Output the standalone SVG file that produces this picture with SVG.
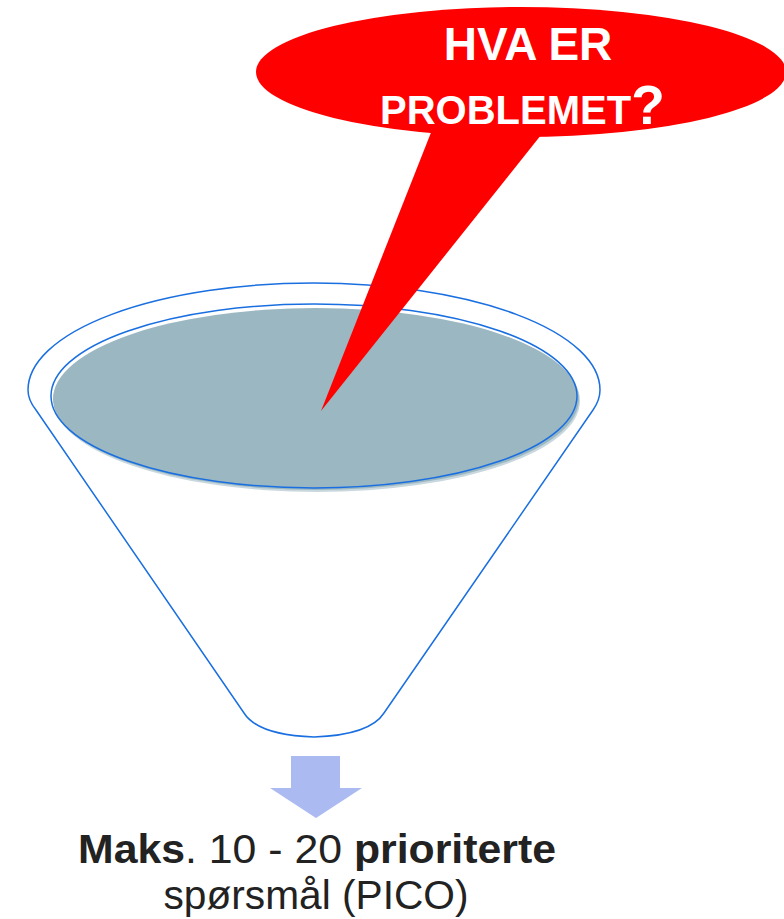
<svg xmlns="http://www.w3.org/2000/svg" width="784" height="919" viewBox="0 0 784 919">
<style>
.ln{fill:none;stroke:#1a6fe0;stroke-width:1.5}
.bt{font-family:"Liberation Sans",Arial,sans-serif;font-weight:bold;fill:#fff}
.lb{font-family:"Liberation Sans",Arial,sans-serif;fill:#222;font-size:40px}
</style>
<rect width="784" height="919" fill="#fff"/>
<g id="funnel">
<path d="M244,713 L36,410 Q28,400 28,390 A286 107 0 0 1 600 390 Q600 400 593 410 L384 713 Q370 735 314 737 Q258 735 244 713 Z" fill="#fff" stroke="#1a6fe0" stroke-width="1.5"/>
<ellipse cx="317" cy="401" rx="263" ry="91" fill="#c9d8de"/>
<ellipse cx="316" cy="399" rx="263" ry="91" fill="#9bb7c1"/>
<ellipse cx="314" cy="396" rx="263" ry="92" class="ln"/>
</g>
<g id="bubble">
<ellipse cx="521" cy="72" rx="265" ry="65" fill="#ff0000"/>
<polygon points="432,130 545,130 321,411" fill="#ff0000"/>
<text class="bt" x="528" y="60" font-size="46" text-anchor="middle">HVA ER</text>
<text class="bt" x="380" y="124" font-size="40">PROBLEMET<tspan font-size="55">?</tspan></text>
</g>
<g id="connectors">
<polygon points="291,756 340,756 340,788 362,788 316,818 270,788 291,788" fill="#abbbf1"/>
</g>
<g id="label">
<text class="lb" x="317" y="863" text-anchor="middle" textLength="478" lengthAdjust="spacingAndGlyphs"><tspan font-weight="bold">Maks</tspan>. 10 - 20 <tspan font-weight="bold">prioriterte</tspan></text>
<text class="lb" x="316" y="909" text-anchor="middle" textLength="305" lengthAdjust="spacingAndGlyphs">spørsmål (PICO)</text>
</g>
</svg>
